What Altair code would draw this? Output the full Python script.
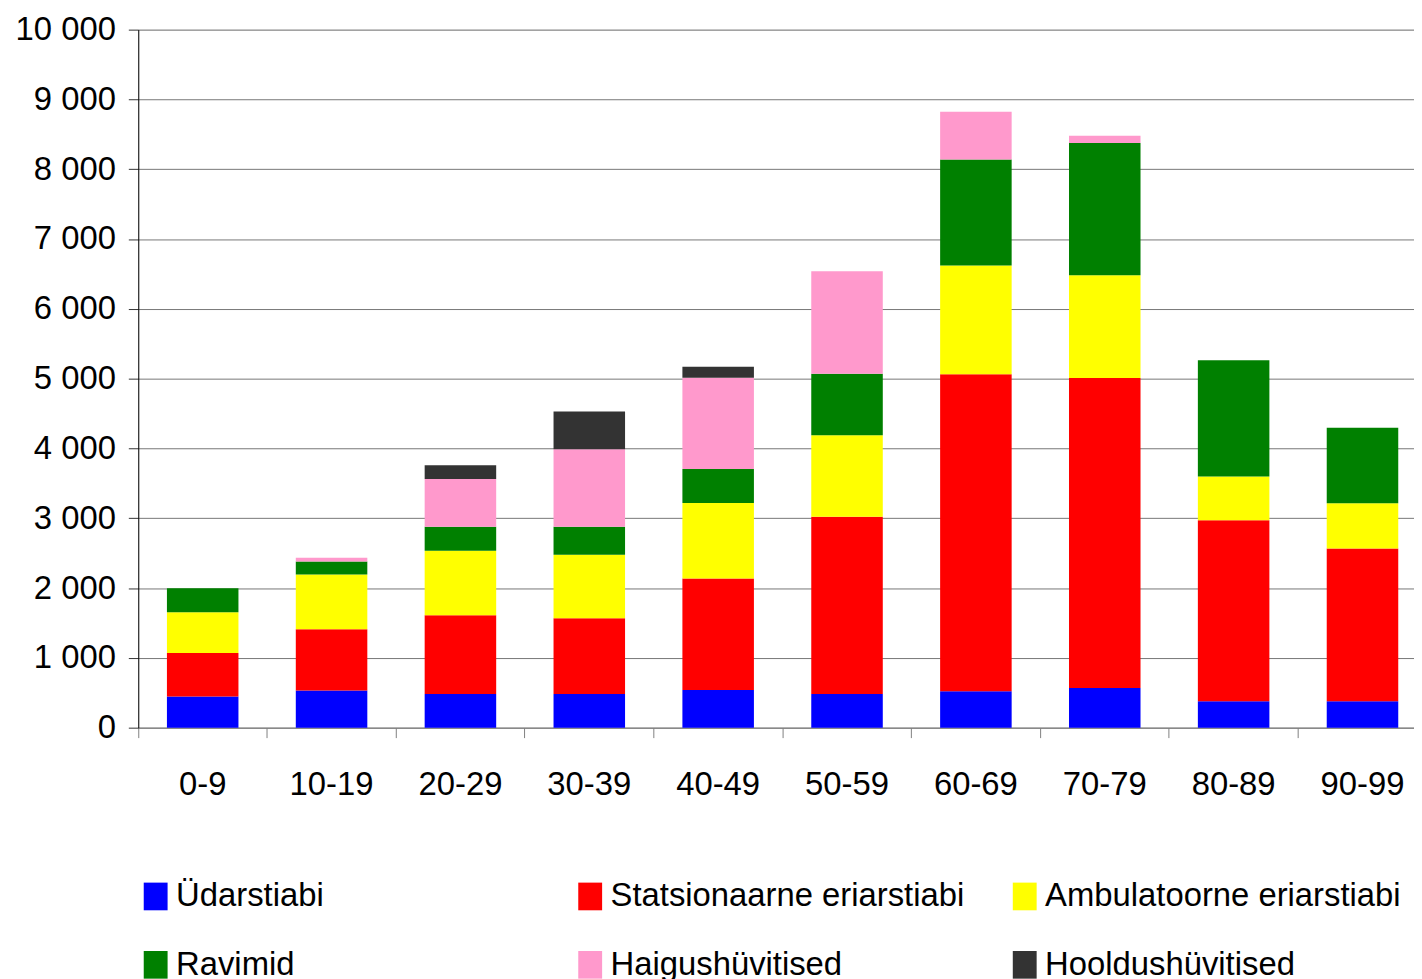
import altair as alt
import pandas as pd

categories = ["0-9", "10-19", "20-29", "30-39", "40-49", "50-59", "60-69", "70-79", "80-89", "90-99"]
series = ["Üdarstiabi", "Statsionaarne eriarstiabi", "Ambulatoorne eriarstiabi",
          "Ravimid", "Haigushüvitised", "Hooldushüvitised"]
colors = ["#0000FF", "#FF0000", "#FFFF00", "#008000", "#FF99CC", "#333333"]

udarstiabi = [446, 531, 484, 484, 541, 484, 523, 570, 380, 380]
statsionaarne = [622, 879, 1126, 1083, 1596, 2536, 4541, 4440, 2590, 2188]
ambulatoorne = [584, 784, 926, 912, 1082, 1168, 1556, 1473, 627, 646]
ravimid = [347, 185, 341, 398, 485, 883, 1518, 1892, 1668, 1081]
haigus = [0, 57, 684, 1112, 1310, 1467, 687, 106, 0, 0]
hooldus = [0, 0, 200, 541, 157, 0, 0, 0, 0, 0]

y_ticks = [0, 1000, 2000, 3000, 4000, 5000, 6000, 7000, 8000, 9000, 10000]

rows = []
for si, (name, vals) in enumerate(zip(series, [udarstiabi, statsionaarne, ambulatoorne,
                                                 ravimid, haigus, hooldus])):
    for c, v in zip(categories, vals):
        rows.append({"vanus": c, "liik": name, "idx": si, "vaartus": v})
df = pd.DataFrame(rows)

# legend is laid out column by column, so interleave the two rows
legend_order = [series[0], series[3], series[1], series[4], series[2], series[5]]
legend_colors = [colors[series.index(s)] for s in legend_order]

FONT = "Liberation Sans"

chart = alt.Chart(df).mark_bar(width=alt.RelativeBandSize(band=0.555)).encode(
    x=alt.X("vanus:N", sort=categories,
            scale=alt.Scale(range=[0, 1296], paddingInner=0, paddingOuter=0),
            axis=alt.Axis(title=None, labelAngle=0, bandPosition=0, tickSize=10,
                          tickColor="#808080", domainColor="#808080", labelFontSize=33,
                          labelFont=FONT, labelColor="black", labelPadding=31, grid=False)),
    y=alt.Y("vaartus:Q", stack="zero",
            scale=alt.Scale(domain=[0, 10000], nice=False),
            axis=alt.Axis(title=None, values=y_ticks,
                          labelExpr="replace(format(datum.value, ','), ',', ' ')",
                          labelFontSize=33, labelFont=FONT, labelColor="black",
                          labelPadding=13, tickSize=10, tickColor="#333333",
                          domainColor="black", gridColor="#777777", gridWidth=1)),
    color=alt.Color("liik:N", scale=alt.Scale(domain=legend_order, range=legend_colors),
                    legend=alt.Legend(title=None, orient="none", legendX=1, legendY=855,
                                      columns=3, symbolType="M-1,-1.16H1V1.16H-1Z",
                                      symbolSize=576, symbolStrokeWidth=0,
                                      symbolOpacity=1,
                                      labelFontSize=33, labelFont=FONT, labelColor="black",
                                      labelOffset=4, columnPadding=42, rowPadding=35,
                                      gridAlign="all", padding=0, labelLimit=600)),
    order=alt.Order("idx:Q", sort="ascending"),
).properties(
    width=1283, height=702,
    autosize=alt.AutoSizeParams(type="none"),
    padding={"left": 131, "top": 19, "right": 0, "bottom": 250},
).configure_view(stroke=None).configure(background="white")

chart.save("out.html", embed_options={"renderer": "svg", "actions": False})
